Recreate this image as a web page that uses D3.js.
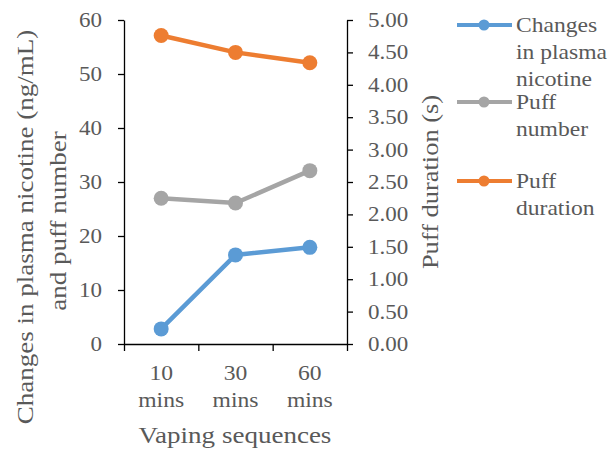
<!DOCTYPE html>
<html>
<head>
<meta charset="utf-8">
<script src="https://cdn.jsdelivr.net/npm/d3@7"></script>
<style>
    body { margin: 0; background: #fff; }
    text { font-family: "Liberation Serif", "Times New Roman", serif; fill: #595959; font-size: 20px; }
    .axis path, .axis line { stroke: #000; stroke-width: 1.3; }
    .axis text { font-size: 20px; }
</style>
</head>
<body>
<div id="chart"></div>
<script>
// data
var categories = ["10 mins", "30 mins", "60 mins"];
var nicotine = [2.8, 16.5, 17.9];
var puffNumber = [27.0, 26.1, 32.1];
var puffDuration = [4.76, 4.50, 4.34];
var leftTicks = [0, 10, 20, 30, 40, 50, 60];
var rightTicks = [0, 0.5, 1, 1.5, 2, 2.5, 3, 3.5, 4, 4.5, 5];

// the reference font is wider than Liberation Serif, so stretch text sideways
var sx = 1.15;

function init() {
    var w = 612;
    var h = 455;
    var left = 124, right = 347, top = 20, bottom = 344;

    var svg = d3.select("#chart")
        .append("svg")
        .attr("width", w)
        .attr("height", h);

    var xScale = d3.scaleBand()
        .domain(categories)
        .range([left, right]);

    var xEdge = d3.scaleLinear()
        .domain([0, categories.length])
        .range([left, right]);

    var yLeft = d3.scaleLinear().domain([0, 60]).range([bottom, top]);
    var yRight = d3.scaleLinear().domain([0, 5]).range([bottom, top]);

    function stretchTicks(g) {
        g.selectAll(".tick text")
            .attr("x", function () { return +d3.select(this).attr("x") / sx; })
            .attr("transform", `scale(${sx},1)`);
    }

    // a block of text lines placed at (x,y), optionally rotated
    function label(x, y, lines, opts) {
        opts = opts || {};
        var tr = `translate(${x},${y})` + (opts.rotate ? ` rotate(${opts.rotate})` : "") + ` scale(${sx},1)`;
        var t = svg.append("g").attr("transform", tr)
            .append("text")
            .attr("text-anchor", opts.anchor || "start")
            .style("font-size", opts.size || "20px");
        lines.forEach(function (l, i) {
            t.append("tspan")
                .attr("x", 0)
                .attr("dy", i == 0 ? 0 : 27)
                .text(l);
        });
    }

    // axes
    svg.append("g")
        .attr("class", "axis")
        .attr("transform", `translate(${left},0)`)
        .call(d3.axisLeft(yLeft).tickValues(leftTicks).tickSize(6).tickSizeOuter(0).tickPadding(16))
        .call(stretchTicks);

    svg.append("g")
        .attr("class", "axis")
        .attr("transform", `translate(${right},0)`)
        .call(d3.axisRight(yRight).tickValues(rightTicks).tickFormat(d3.format(".2f"))
            .tickSize(6).tickSizeOuter(0).tickPadding(15))
        .call(stretchTicks);

    svg.append("g")
        .attr("class", "axis")
        .attr("transform", `translate(0,${bottom})`)
        .call(d3.axisBottom(xEdge).tickValues(d3.range(categories.length + 1)).tickFormat("").tickSize(7).tickSizeOuter(0));

    // category labels, two lines each
    categories.forEach(function (c) {
        label(xScale(c) + xScale.bandwidth() / 2, 380, c.split(" "), { anchor: "middle", size: "20.5px" });
    });

    // axis titles
    label(235, 443, ["Vaping sequences"], { anchor: "middle", size: "23.5px" });
    label(33, 227, ["Changes in plasma nicotine (ng/mL)"], { anchor: "middle", rotate: -90, size: "23.5px" });
    label(66, 221, ["and puff number"], { anchor: "middle", rotate: -90, size: "23.5px" });
    label(438, 182, ["Puff duration (s)"], { anchor: "middle", rotate: -90, size: "23px" });

    // series
    var series = [
        { name: ["Changes", "in plasma", "nicotine"], values: nicotine, y: yLeft, color: "#5B9BD5" },
        { name: ["Puff", "number"], values: puffNumber, y: yLeft, color: "#A5A5A5" },
        { name: ["Puff", "duration"], values: puffDuration, y: yRight, color: "#ED7D31" }
    ];

    series.forEach(function (s) {
        var pts = s.values.map(function (v, i) { return [categories[i], v]; });

        var line = d3.line()
            .x(function (d) { return xScale(d[0]) + xScale.bandwidth() / 2; })
            .y(function (d) { return s.y(d[1]); });

        svg.append("path")
            .datum(pts)
            .attr("d", line)
            .style("fill", "none")
            .style("stroke", s.color)
            .style("stroke-width", 4.5);

        svg.selectAll(null)
            .data(pts)
            .enter()
            .append("circle")
            .attr("cx", function (d) { return xScale(d[0]) + xScale.bandwidth() / 2; })
            .attr("cy", function (d) { return s.y(d[1]); })
            .attr("r", 7.5)
            .style("fill", s.color);
    });

    // legend
    var lx = 457, ly = 25;
    series.forEach(function (s, i) {
        var y = ly + [0, 77, 156][i];
        svg.append("line")
            .attr("x1", lx).attr("x2", lx + 55)
            .attr("y1", y).attr("y2", y)
            .style("stroke", s.color)
            .style("stroke-width", 4);
        svg.append("circle")
            .attr("cx", lx + 27).attr("cy", y).attr("r", 5.5)
            .style("fill", s.color);
        label(lx + 59, y + 7, s.name, { size: "20.5px" });
    });
}

window.onload = init;
</script>
</body>
</html>
